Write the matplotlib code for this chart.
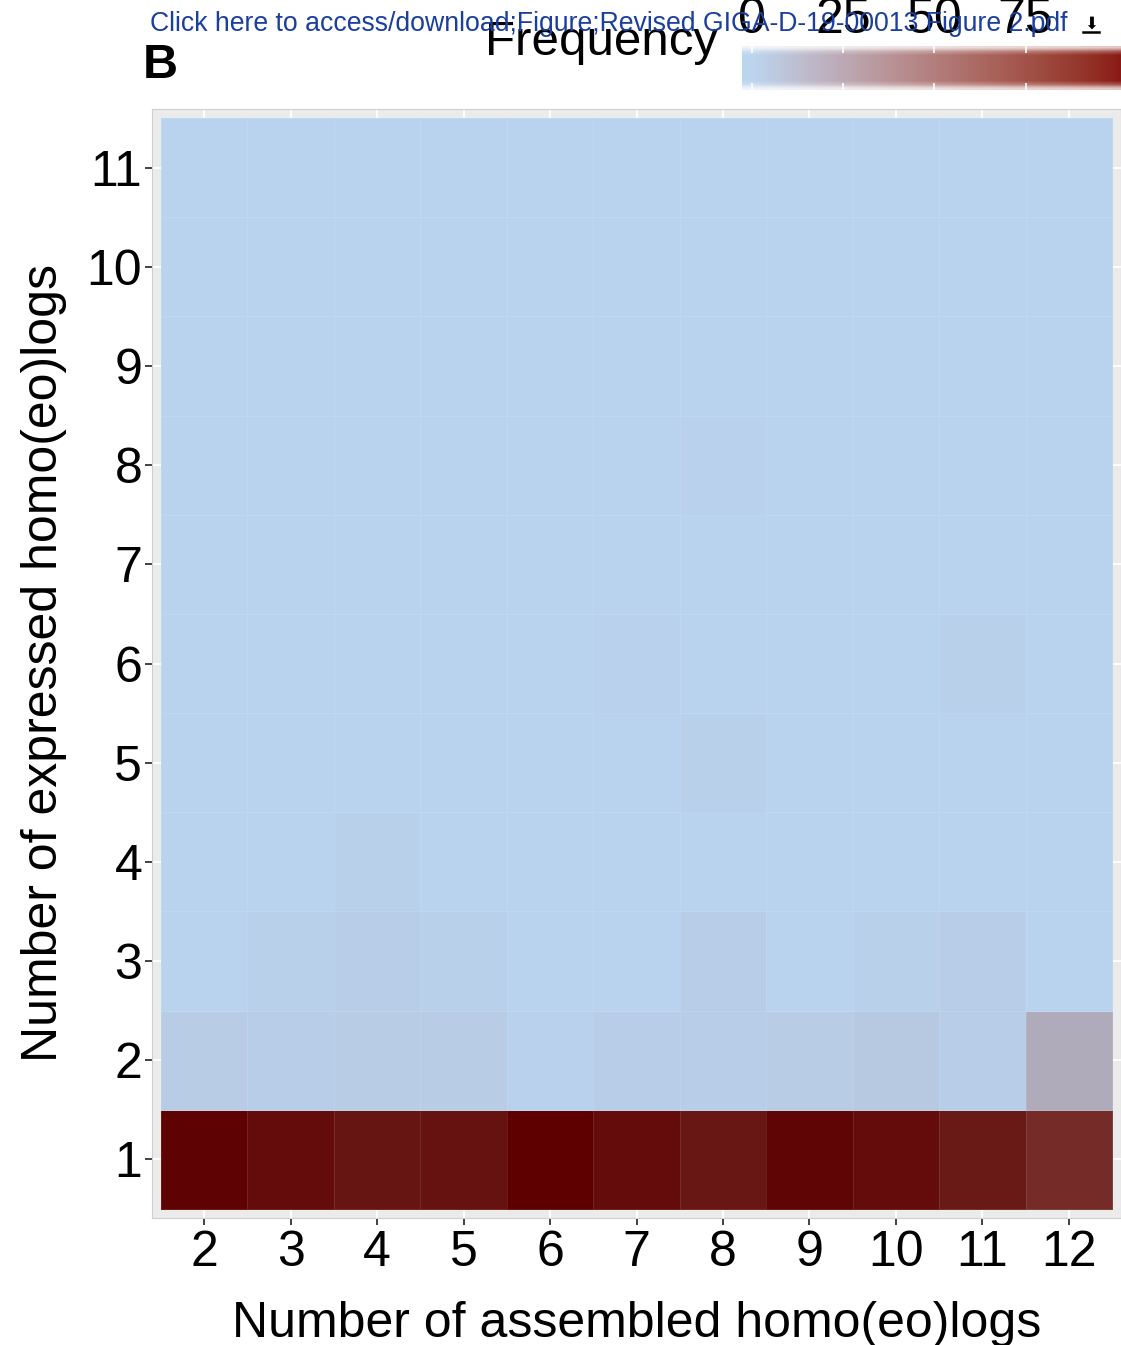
import numpy as np
import matplotlib
matplotlib.use("Agg")
import matplotlib.pyplot as plt
from matplotlib.colors import ListedColormap
from matplotlib.lines import Line2D

# ---------------- data ----------------
assembled = [2, 3, 4, 5, 6, 7, 8, 9, 10, 11, 12]          # x categories
expressed = [1, 2, 3, 4, 5, 6, 7, 8, 9, 10, 11]           # y categories
# frequency rows, one per "expressed" value (1..11), columns follow `assembled`
row_1  = [103, 100, 97, 98, 104, 100, 96, 102, 100, 95, 86]
row_2  = [4, 3, 4, 4, 1, 3, 3, 4, 5, 3, 20]
row_3  = [0, 2, 3, 2, 0, 0, 3, 0, 2, 3, 0]
row_4  = [0, 0, 2, 0, 0, 0, 0, 0, 0, 0, 0]
row_5  = [0, 0, 0, 0, 0, 0, 2, 0, 0, 0, 0]
row_6  = [0, 0, 0, 0, 0, 1, 0, 0, 0, 2, 0]
row_7  = [0, 0, 0, 0, 0, 0, 0, 0, 0, 0, 0]
row_8  = [0, 0, 0, 0, 0, 0, 1, 0, 0, 0, 0]
row_9  = [0, 0, 0, 0, 0, 0, 0, 0, 0, 0, 0]
row_10 = [0, 0, 0, 0, 0, 0, 0, 0, 0, 0, 0]
row_11 = [0, 0, 0, 0, 0, 0, 0, 0, 0, 0, 0]
legend_ticks = [0, 25, 50, 75]

freq = np.array([row_1, row_2, row_3, row_4, row_5, row_6, row_7, row_8,
                 row_9, row_10, row_11], dtype=float)
vmin, vmax = 0.0, freq.max()

# ---------------- Lab gradient (like ggplot scale_fill_gradient) ----------------
WHITE = np.array([0.95047, 1.0, 1.08883])
M = np.array([[0.4124, 0.3576, 0.1805],
              [0.2126, 0.7152, 0.0722],
              [0.0193, 0.1192, 0.9505]])


def srgb_to_lab(rgb):
    c = np.asarray(rgb, float)
    lin = np.where(c <= 0.04045, c / 12.92, ((c + 0.055) / 1.055) ** 2.4)
    xyz = lin @ M.T / WHITE
    d = 6 / 29
    f = np.where(xyz > d ** 3, np.cbrt(xyz), xyz / (3 * d * d) + 4 / 29)
    return np.stack([116 * f[..., 1] - 16,
                     500 * (f[..., 0] - f[..., 1]),
                     200 * (f[..., 1] - f[..., 2])], axis=-1)


def lab_to_srgb(lab):
    L, a, b = lab[..., 0], lab[..., 1], lab[..., 2]
    fy = (L + 16) / 116
    fx = fy + a / 500
    fz = fy - b / 200
    d = 6 / 29
    f = np.stack([fx, fy, fz], axis=-1)
    xyz = np.where(f > d, f ** 3, 3 * d * d * (f - 4 / 29)) * WHITE
    lin = xyz @ np.linalg.inv(M).T
    lin = np.clip(lin, 0, 1)
    c = np.where(lin <= 0.0031308, 12.92 * lin, 1.055 * lin ** (1 / 2.4) - 0.055)
    return np.clip(c, 0, 1)


def lab_cmap(lo, hi, n=256):
    l0, l1 = srgb_to_lab(np.array(lo) / 255), srgb_to_lab(np.array(hi) / 255)
    t = np.linspace(0, 1, n)[:, None]
    return ListedColormap(lab_to_srgb(l0 + t * (l1 - l0)))


tile_cmap = lab_cmap((185, 211, 238), (94, 0, 0))
bar_cmap = lab_cmap((185, 211, 238), (128, 0, 0))

FS = 36

# ---------------- figure ----------------
W, H = 1121, 1345
fig = plt.figure(figsize=(W / 100, H / 100), dpi=100)
plt.rcParams['font.family'] = ['Liberation Sans', 'DejaVu Sans']

ax = fig.add_axes([152 / W, 1 - 1218 / H, 969 / W, 1109 / H])
ax.set_facecolor('#EBEBEB')
ax.pcolormesh(assembled, expressed, freq, shading='nearest', cmap=tile_cmap,
              vmin=vmin, vmax=vmax, edgecolor=(1, 1, 1, 0.10), linewidth=0.6,
              zorder=2)
ax.set_xlim(assembled[0] - 0.604, assembled[-1] + 0.604)
ax.set_ylim(expressed[0] - 0.59, expressed[-1] + 0.59)
ax.set_xticks(assembled)
ax.set_yticks(expressed)
ax.grid(True, color='white', linewidth=1.3, zorder=0)
ax.set_axisbelow(True)
for s in ax.spines.values():
    s.set_color('#CFCFCF')
    s.set_linewidth(0.8)
ax.tick_params(axis='both', length=5, width=1.3, color='#333333',
               labelsize=FS, labelcolor='black')
ax.tick_params(axis='x', pad=3.5)
ax.tick_params(axis='y', pad=2)

ax.set_xlabel('Number of assembled homo(eo)logs', fontsize=FS)
ax.set_ylabel('Number of expressed homo(eo)logs', fontsize=FS)
ax.xaxis.set_label_coords(0.5, -0.0745)
ax.yaxis.set_label_coords(-0.088, 0.5)

# ---------------- colour bar (top right, clipped by figure edge) ----------------
cax = fig.add_axes([741.7 / W, 1 - 90 / H, 400 / W, 44 / H])
nbin = 20
half = vmax / (nbin - 1) / 2
bins = np.linspace(vmin, vmax, nbin)
rgba = bar_cmap((bins - vmin) / (vmax - vmin))
rows = 12
img = np.repeat(rgba[None, :, :], rows, axis=0)
edge_alpha = np.ones(rows)
edge_alpha[[0, -1]] = 0.25
edge_alpha[[1, -2]] = 0.75
img[:, :, 3] = edge_alpha[:, None] * 0.95
cax.imshow(img, aspect='auto', interpolation='bilinear',
           extent=(vmin - half, vmax + half, 0, 1))
cax.set_xlim(vmin - half, vmax + half)
cax.set_ylim(0, 1)
cax.set_yticks([])
cax.set_xticks(legend_ticks)
cax.tick_params(axis='x', direction='in', length=5, width=1.2, color='white',
                top=True, bottom=True, labeltop=True, labelbottom=False,
                labelsize=FS, pad=2)
for s in cax.spines.values():
    s.set_visible(False)

fig.text(718 / W, 1 - 55 / H, 'Frequency', fontsize=35.5, ha='right',
         va='baseline')

# ---------------- panel letter and header ----------------
fig.text(143 / W, 1 - 78 / H, 'B', fontsize=35, fontweight='bold',
         ha='left', va='baseline')
fig.text(150 / W, 1 - 31 / H,
         'Click here to access/download;Figure;Revised GIGA-D-19-00013 Figure 2.pdf',
         fontsize=19.2, color='#1B3F9E', ha='left', va='baseline', zorder=10)
fig.text(1091 / W, 1 - 29 / H, '\u2b07', fontsize=12, color='black',
         ha='center', va='baseline', zorder=10,
         family=['DejaVu Sans', 'Noto Sans CJK SC'])
fig.add_artist(Line2D([1083 / W, 1099 / W], [1 - 32 / H, 1 - 32 / H],
                      transform=fig.transFigure, color='black', linewidth=1.8))

fig.savefig('out.png', dpi=100)
